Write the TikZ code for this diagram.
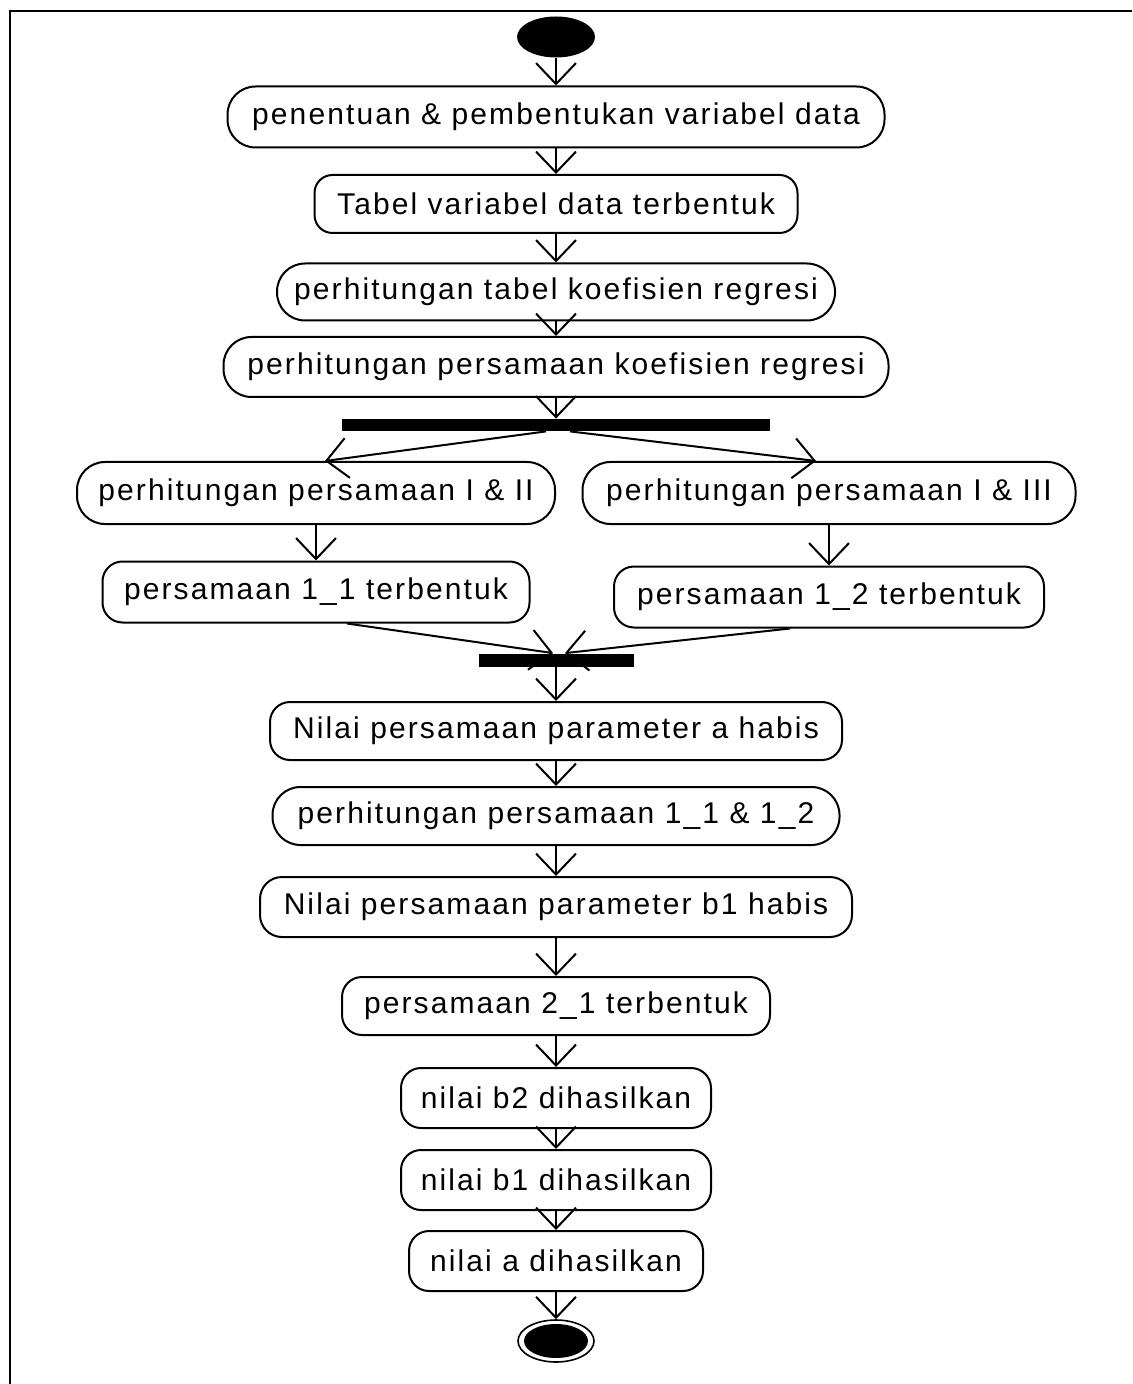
\documentclass[tikz,border=0pt]{standalone}
\usepackage{fontspec}
\setmainfont{Liberation Sans}[LetterSpace=7]
\usetikzlibrary{arrows.meta,calc,shapes.geometric}
\begin{document}
\begin{tikzpicture}[x=0.5pt,y=-0.5pt,
  act/.style={draw, line width=1pt, rounded corners=#1, inner sep=0pt,
    font=\fontsize{15}{18}\selectfont, align=center},
  act/.default=10pt,
  bar/.style={fill=black, inner sep=0pt},
  flow/.style={line width=1pt, -{Straight Barb[length=10.5pt,width=20pt,line width=1pt]}},
  frame/.style={line width=1pt}]
\useasboundingbox (0,0) rectangle (1132,1384);
\draw[frame] (10,1384) -- (10,11) -- (1132,11);

\node[ellipse, fill=black, inner sep=0pt, minimum width=39pt, minimum height=20.5pt] (start) at (556,37) {};
\node[act=14pt, minimum width=328.5pt, minimum height=30.5pt] (n1) at (556,117) {penentuan \& pembentukan variabel data};
\node[act=9pt, minimum width=241.5pt, minimum height=29pt] (n2) at (556,204) {Tabel variabel data terbentuk};
\node[act=14pt, minimum width=279pt, minimum height=28.5pt] (n3) at (556,292) {perhitungan tabel koefisien regresi};
\node[act=14pt, minimum width=332.5pt, minimum height=30pt] (n4) at (556,367) {perhitungan persamaan koefisien regresi};
\node[bar, minimum width=214pt, minimum height=6pt] (fork) at (556,425) {};
\node[act=14pt, minimum width=239pt, minimum height=31pt] (n5) at (316,493) {perhitungan persamaan I \& II};
\node[act=14pt, minimum width=246.5pt, minimum height=31pt] (n6) at (829,493) {perhitungan persamaan I \& III};
\node[act=10pt, minimum width=213.5pt, minimum height=30.5pt] (n7) at (316,592) {persamaan 1\_1 terbentuk};
\node[act=10pt, minimum width=215pt, minimum height=30.5pt] (n8) at (829,597) {persamaan 1\_2 terbentuk};
\node[bar, minimum width=77.5pt, minimum height=6.5pt] (join) at (556,660) {};
\node[act=10pt, minimum width=286pt, minimum height=29pt] (n9) at (556,731) {Nilai persamaan parameter a habis};
\node[act=14pt, minimum width=283.5pt, minimum height=29pt] (n10) at (556,816) {perhitungan persamaan 1\_1 \& 1\_2};
\node[act=11pt, minimum width=296pt, minimum height=30pt] (n11) at (556,907) {Nilai persamaan parameter b1 habis};
\node[act=10pt, minimum width=214pt, minimum height=29pt] (n12) at (556,1006) {persamaan 2\_1 terbentuk};
\node[act=10pt, minimum width=155pt, minimum height=30pt] (n13) at (556,1098) {nilai b2 dihasilkan};
\node[act=10pt, minimum width=155pt, minimum height=30pt] (n14) at (556,1180) {nilai b1 dihasilkan};
\node[act=10pt, minimum width=147pt, minimum height=30pt] (n15) at (556,1261) {nilai a dihasilkan};
\node[ellipse, draw, line width=0.8pt, inner sep=0pt, minimum width=38pt, minimum height=21pt] (end) at (556,1341) {};
\node[ellipse, fill=black, inner sep=0pt, minimum width=32pt, minimum height=17pt] (endin) at (end) {};

\draw[flow] (start) -- (n1);
\draw[flow] (n1) -- (n2);
\draw[flow] (n2) -- (n3);
\draw[flow] (n3) -- (n4);
\draw[flow] (n4) -- (fork);
\draw[flow] ($(fork.south)+(-10,0)$) -- ($(n5.north)+(9,0)$);
\draw[flow] ($(fork.south)+(14,0)$) -- ($(n6.north)+(-13,0)$);
\draw[flow] (n5) -- (n7);
\draw[flow] (n6) -- (n8);
\draw[flow] ($(n7.south)+(31,0)$) -- ($(join.north)+(-3,0)$);
\draw[flow] ($(n8.south)+(-39,0)$) -- ($(join.north)+(9,0)$);
\draw[flow] (join) -- (n9);
\draw[flow] (n9) -- (n10);
\draw[flow] (n10) -- (n11);
\draw[flow] (n11) -- (n12);
\draw[flow] (n12) -- (n13);
\draw[flow] (n13) -- (n14);
\draw[flow] (n14) -- (n15);
\draw[flow] (n15) -- (end);
\end{tikzpicture}
\end{document}
